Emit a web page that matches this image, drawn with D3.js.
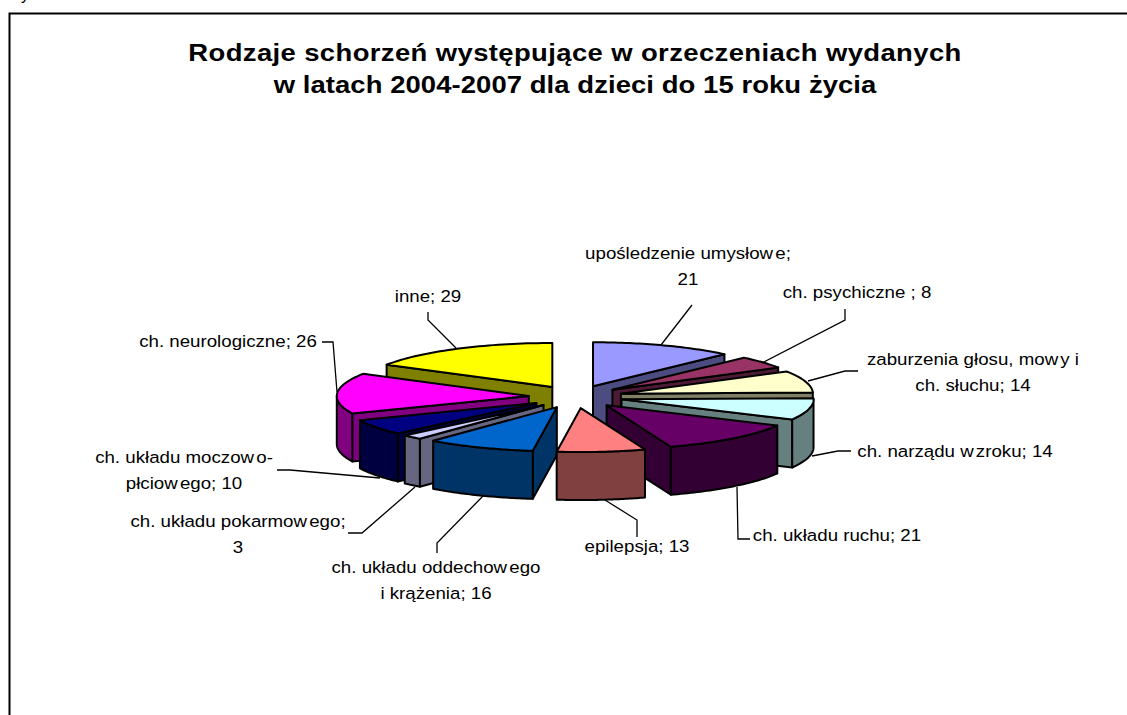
<!DOCTYPE html>
<html><head><meta charset="utf-8"><style>html,body{margin:0;background:#fff;overflow:hidden}text{font-family:"Liberation Sans",Arial,sans-serif}</style>
<script src="https://cdn.jsdelivr.net/npm/d3@7"></script></head><body><svg id="c" width="1127" height="715"></svg>
<script>
const categories=["upośledzenie umysłowe","ch. psychiczne","zaburzenia głosu, mowy i ch. słuchu","ch. narządu wzroku","ch. układu ruchu","epilepsja","ch. układu oddechowego i krążenia","ch. układu pokarmowego","ch. układu moczowo-płciowego","ch. neurologiczne","inne"];
const values=[21,8,14,14,21,13,16,3,10,26,29];
const topColors=["#9999FF","#993366","#FFFFCC","#CCFFFF","#660066","#FF8080","#0066CC","#CCCCFF","#000080","#FF00FF","#FFFF00"];
const sideColors=["#4C4C80","#4D1A33","#808066","#668080","#330033","#804040","#003366","#666680","#000040","#800080","#808000"];
const labelLines=[["upośledzenie umysłowe;","21"],["ch. psychiczne ; 8"],["zaburzenia głosu, mowy i","ch. słuchu; 14"],["ch. narządu wzroku; 14"],["ch. układu ruchu; 21"],["epilepsja; 13"],["ch. układu oddechowego","i krążenia; 16"],["ch. układu pokarmowego;","3"],["ch. układu moczowo-","płciowego; 10"],["ch. neurologiczne; 26"],["inne; 29"]];
const labelPos=[[688,259],[857,298],[973,365],[955,457],[837,541],[637,552],[436,573],[238,527],[184,463],[228,347],[428,302]];
const leaders=[[[692,305],[661,345]],[[845,309],[845,320],[762,363]],[[858,371],[845,371],[808,381]],[[851,451],[838,451],[812,456]],[[750,539],[738,539],[737,487]],[[637,537],[637,520],[605,500]],[[437,553],[437,543],[483,496]],[[348,533],[362,533],[415,487]],[[277,470],[290,470],[380,478]],[[322,342],[333,342],[337,392]],[[428,312],[428,320],[456,348]]];
const titleLines=["Rodzaje schorzeń występujące w orzeczeniach wydanych","w latach 2004-2007 dla dzieci do 15 roku życia"];
const titleSpacing=[0.35,0.07];

const W=1127,H=715,cx=575.7,cy=396.8,rx=192,ry=44,depth=48,ex=47,ey=11.3;
const svg=d3.select("#c");
const frame=d3.path();frame.moveTo(9.5,H);frame.lineTo(9.5,13.5);frame.lineTo(W,13.5);
svg.append("path").attr("d",frame).attr("fill","none").attr("stroke","#000").attr("stroke-width",2);
svg.append("text").attr("x",21).attr("y",0).attr("font-size",16).text("y");
svg.append("g").selectAll("text").data(titleLines).join("text").attr("text-anchor","middle")
 .attr("transform",(d,i)=>`translate(575,${61+i*32}) scale(1.12,1)`)
 .attr("font-weight","bold").attr("font-size",24.5).attr("letter-spacing",(d,i)=>titleSpacing[i]).text(d=>d);

const arcs=d3.pie().sort(null).value(d=>d)(values).map((a,i)=>{
  const mid=(a.startAngle+a.endAngle)/2;
  return {i,a0:a.startAngle,a1:a.endAngle,ax:cx+ex*Math.sin(mid),ay:cy-ey*Math.cos(mid)};
});
const pt=(s,t,dz=0)=>[s.ax+rx*Math.sin(t),s.ay-ry*Math.cos(t)+dz];
const line=d3.line();
const rim=(s,t0,t1,dz)=>d3.range(0,41).map(k=>pt(s,t0+(t1-t0)*k/40,dz));
const g=svg.append("g").attr("stroke","#000").attr("stroke-width",2).attr("stroke-linejoin","round");
arcs.slice().sort((a,b)=>a.ay-b.ay).forEach(s=>{
  const side=sideColors[s.i],tp=topColors[s.i];
  const wall=t=>{const p=pt(s,t);return line([[s.ax,s.ay],p,[p[0],p[1]+depth],[s.ax,s.ay+depth]])+"Z";};
  if(Math.sin(s.a0)<0) g.append("path").attr("d",wall(s.a0)).attr("fill",side);
  if(Math.sin(s.a1)>0) g.append("path").attr("d",wall(s.a1)).attr("fill",side);
  const lo=Math.max(s.a0,Math.PI/2),hi=Math.min(s.a1,Math.PI*1.5);
  if(hi>lo){const up=rim(s,lo,hi,0),dn=rim(s,hi,lo,depth);
    g.append("path").attr("d",line(up.concat(dn))+"Z").attr("fill",side);}
  g.append("path").attr("d",line([[s.ax,s.ay]].concat(rim(s,s.a0,s.a1,0)))+"Z").attr("fill",tp);
});
svg.append("g").attr("fill","none").attr("stroke","#000").attr("stroke-width",1.3)
 .selectAll("path").data(leaders).join("path").attr("d",d=>line(d));
labelLines.forEach((ls,i)=>{
  ls.forEach((txt,k)=>{
    const t=svg.append("text").attr("text-anchor","middle").attr("font-size",17).attr("fill","#000")
      .attr("transform",`translate(${labelPos[i][0]},${labelPos[i][1]+k*26}) scale(1.1,1)`);
    t.selectAll("tspan").data(txt.split(/(?<=w)(?=[a-z])/)).join("tspan").attr("dx",(d,j)=>j?2:0).text(d=>d);
  });
});
</script></body></html>
